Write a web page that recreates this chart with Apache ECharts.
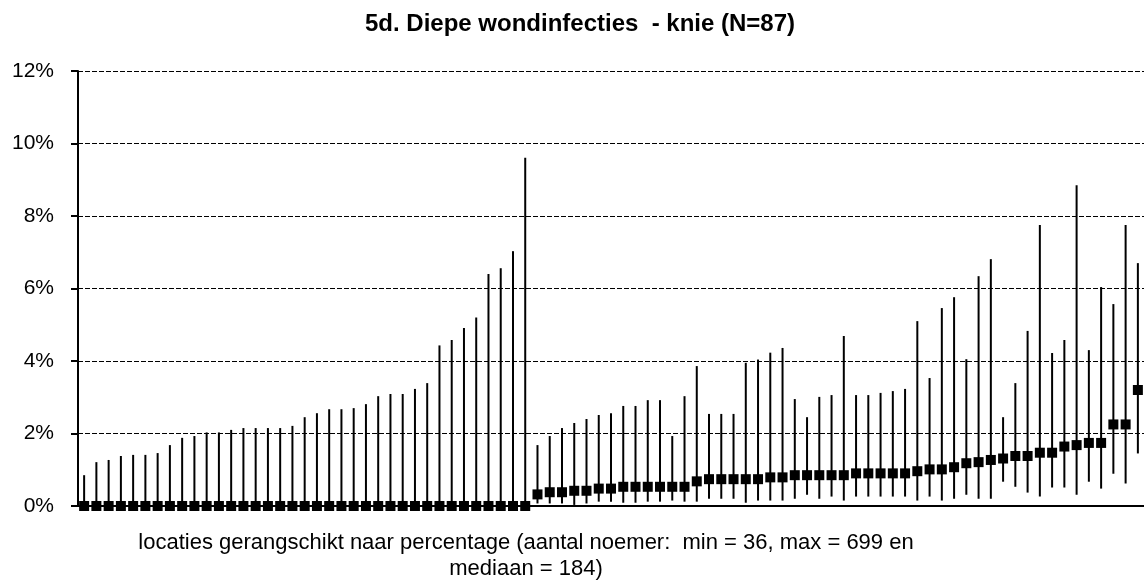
<!DOCTYPE html>
<html>
<head>
<meta charset="utf-8">
<title>5d. Diepe wondinfecties - knie</title>
<script src="https://cdn.jsdelivr.net/npm/echarts@6/dist/echarts.min.js"></script>
<style>
    html, body { margin: 0; padding: 0; background: #fff; }
    #chart { width: 1144px; height: 583px; }
</style>
</head>
<body>
<div id="chart"></div>
<script>
    // percentages per locatie (gerangschikt), 87 locaties
    let rate = [
        0, 0, 0, 0, 0, 0, 0, 0, 0, 0, 0, 0, 0, 0, 0, 0, 0, 0, 0, 0,
        0, 0, 0, 0, 0, 0, 0, 0, 0, 0, 0, 0, 0, 0, 0, 0, 0,
        0.32, 0.38, 0.38, 0.42, 0.42, 0.48, 0.48, 0.53, 0.53, 0.53,
        0.53, 0.53, 0.53, 0.68, 0.74, 0.74, 0.74, 0.74, 0.74, 0.79,
        0.79, 0.85, 0.85, 0.85, 0.85, 0.85, 0.90, 0.90, 0.90, 0.90,
        0.90, 0.96, 1.01, 1.01, 1.07, 1.18, 1.21, 1.27, 1.31, 1.38,
        1.38, 1.47, 1.47, 1.64, 1.68, 1.74, 1.74, 2.25, 2.25, 3.20
    ];
    // ondergrens betrouwbaarheidsinterval
    let lower = [
        0, 0, 0, 0, 0, 0, 0, 0, 0, 0, 0, 0, 0, 0, 0, 0, 0, 0, 0, 0,
        0, 0, 0, 0, 0, 0, 0, 0, 0, 0, 0, 0, 0, 0, 0, 0, 0,
        0.07, 0.07, 0.07, 0.03, 0.07, 0.12, 0.12, 0.09, 0.09, 0.12,
        0.12, 0.15, 0.12, 0.12, 0.20, 0.20, 0.20, 0.09, 0.15, 0.15,
        0.15, 0.20, 0.31, 0.20, 0.26, 0.15, 0.26, 0.26, 0.26, 0.26,
        0.26, 0.15, 0.26, 0.15, 0.20, 0.31, 0.20, 0.20, 0.67, 0.53,
        0.37, 0.26, 0.51, 0.51, 0.31, 0.67, 0.48, 0.89, 0.62, 1.45
    ];
    // bovengrens betrouwbaarheidsinterval
    let upper = [
        0.85, 1.21, 1.27, 1.38, 1.41, 1.41, 1.46, 1.68, 1.88, 1.93,
        2.03, 2.03, 2.10, 2.15, 2.15, 2.15, 2.15, 2.21, 2.45, 2.56,
        2.67, 2.67, 2.70, 2.81, 3.03, 3.09, 3.09, 3.23, 3.39, 4.43,
        4.58, 4.91, 5.20, 6.40, 6.56, 7.03, 9.61,
        1.68, 1.93, 2.15, 2.29, 2.40, 2.51, 2.56, 2.76, 2.76, 2.92,
        2.92, 1.93, 3.03, 3.86, 2.54, 2.54, 2.54, 3.95, 4.04, 4.23,
        4.36, 2.95, 2.45, 3.01, 3.06, 4.69, 3.06, 3.06, 3.12, 3.17,
        3.23, 5.10, 3.53, 5.46, 5.76, 4.05, 6.34, 6.81, 2.45, 3.39,
        4.83, 7.75, 4.22, 4.58, 8.85, 4.30, 6.04, 5.57, 7.75, 6.70
    ];
    // locaties hebben geen naam op de as, alleen een rangnummer
    let categories = rate.map(function (v, i) { return String(i + 1); });
    let yTicks = [0, 2, 4, 6, 8, 10, 12];

    let chartDom = document.getElementById('chart');
    let myChart = echarts.init(chartDom);
    let option;

    let font = 'Liberation Sans, Arial, sans-serif';

    option = {
        animation: false,
        backgroundColor: '#ffffff',
        title: {
            text: '5d. Diepe wondinfecties  - knie (N=87)',
            left: 575,
            top: 7,
            textAlign: 'center',
            textStyle: {
                fontFamily: font,
                fontSize: 24,
                fontWeight: 'bold',
                color: '#000'
            }
        },
        graphic: [
            {
                // as-titel onder de grafiek, twee regels gecentreerd
                type: 'text',
                x: 526,
                y: 530,
                style: {
                    text: 'locaties gerangschikt naar percentage (aantal noemer:  min = 36, max = 699 en\nmediaan = 184)',
                    align: 'center',
                    textAlign: 'center',
                    font: '22px ' + font,
                    lineHeight: 26,
                    fill: '#000'
                }
            }
        ],
        grid: {
            left: 78,
            top: 71,
            width: 1068,
            height: 435
        },
        xAxis: {
            type: 'category',
            data: categories,
            boundaryGap: true,
            axisLine: { show: true, lineStyle: { color: '#000', width: 2 } },
            axisTick: { show: false },
            axisLabel: { show: false },
            splitLine: { show: false }
        },
        yAxis: {
            type: 'value',
            min: yTicks[0],
            max: yTicks[yTicks.length - 1],
            interval: 2,
            axisLine: { show: true, lineStyle: { color: '#000', width: 2 } },
            axisTick: { show: true, length: 7, lineStyle: { color: '#000', width: 2 } },
            axisLabel: {
                formatter: '{value}%',
                margin: 24,
                fontFamily: font,
                fontSize: 21,
                color: '#000'
            },
            splitLine: {
                show: true,
                lineStyle: { color: '#000', width: 1, type: [5, 2] }
            }
        },
        series: [
            {
                // betrouwbaarheidsintervallen als verticale lijnen
                name: 'interval',
                type: 'custom',
                renderItem: function (params, api) {
                    let lo = api.coord([api.value(0), api.value(1)]);
                    let hi = api.coord([api.value(0), api.value(2)]);
                    return {
                        type: 'line',
                        shape: { x1: lo[0], y1: lo[1], x2: hi[0], y2: hi[1] },
                        style: { stroke: '#000', lineWidth: 2 }
                    };
                },
                encode: { x: 0, y: [1, 2] },
                data: categories.map(function (c, i) { return [i, lower[i], upper[i]]; }),
                z: 2
            },
            {
                name: 'percentage',
                type: 'scatter',
                symbol: 'rect',
                symbolSize: 10,
                itemStyle: { color: '#000', opacity: 1 },
                data: rate,
                z: 3
            }
        ]
    };
    option && myChart.setOption(option);
</script>
</body>
</html>
